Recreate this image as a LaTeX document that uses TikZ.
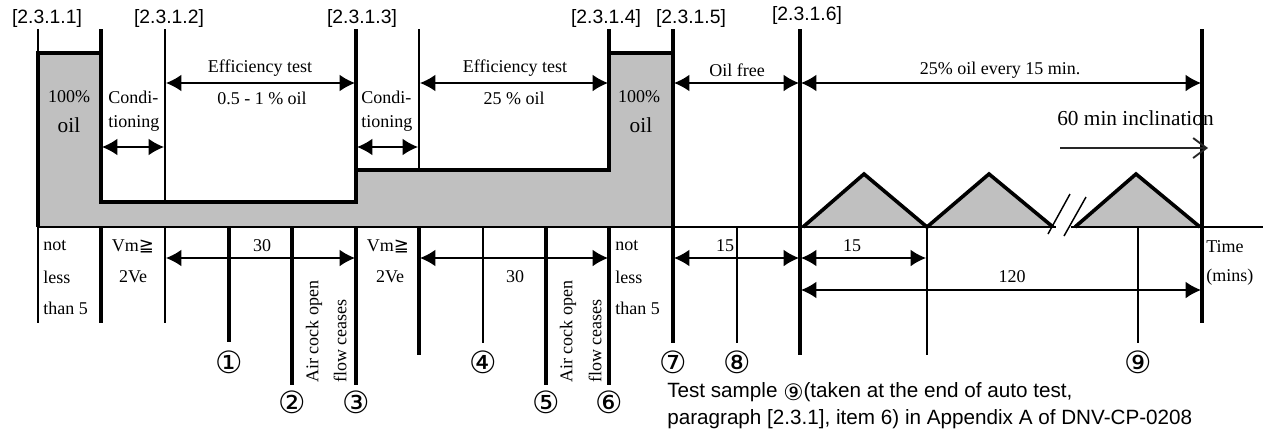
\documentclass[tikz,border=0pt]{standalone}
\usepackage{fontspec}
\setmainfont{Liberation Serif}
\newfontfamily\arial{Liberation Sans}
\newfontfamily\djv{DejaVu Sans}
\usetikzlibrary{arrows.meta}
\definecolor{oilgrey}{RGB}{192,192,192}
\tikzset{
  thinl/.style={line width=1.1pt},
  midl/.style={line width=1.9pt},
  thickl/.style={line width=2.7pt},
  dimarrow/.style={line width=1.1pt,{Latex[length=11.5pt,width=12.5pt]}-{Latex[length=11.5pt,width=12.5pt]}},
  tx/.style={font=\fontsize{13.5}{15}\selectfont, inner sep=0pt},
  oiltx/.style={font=\fontsize{16}{18}\selectfont, inner sep=0pt},
  lab/.style={font=\arial\fontsize{14.5}{16}\selectfont, inner sep=0pt},
  circ/.style={font=\djv\fontsize{23}{25}\selectfont, inner sep=0pt},
  note/.style={font=\arial\fontsize{15.5}{17}\selectfont, inner sep=0pt, anchor=base west},
}
\begin{document}
\begin{tikzpicture}[x=0.75pt,y=-0.75pt]
\useasboundingbox (0,0) rectangle (1263,430);
% grey oil profile
\fill[oilgrey] (38,227) -- (38,53) -- (101,53) -- (101,202) -- (356,202) -- (356,170) -- (609,170) -- (609,53) -- (673,53) -- (673,227) -- cycle;
\fill[oilgrey] (803,227) -- (864,174) -- (927,227) -- cycle;
\fill[oilgrey] (927,227) -- (989,174) -- (1053,227) -- cycle;
\fill[oilgrey] (1075,227) -- (1136,174) -- (1200,227) -- cycle;
% axis
\draw[midl] (38,227) -- (1056,227);
\draw[midl] (1071,227) -- (1263,227);
\draw[thinl] (1048,234) -- (1070,194);
\draw[thinl] (1064,236) -- (1086,197);
% outlines
\draw[thickl, line join=miter] (38,227) -- (38,53) -- (101,53) -- (101,202) -- (356,202) -- (356,170) -- (609,170) -- (609,53) -- (673,53) -- (673,227);
\draw[thickl, line join=miter] (803,227) -- (864,174) -- (927,227) -- (989,174) -- (1053,227);
\draw[thickl, line join=miter] (1075,227) -- (1136,174) -- (1200,227);
% top verticals
\draw[thinl] (38,29) -- (38,53);
\draw[thickl] (101,29) -- (101,53);
\draw[thinl] (165,29) -- (165,202);
\draw[thickl] (356,29) -- (356,170);
\draw[thinl] (419,29) -- (419,170);
\draw[thickl] (609,29) -- (609,53);
\draw[thickl] (673,29) -- (673,53);
\draw[thickl] (800,29) -- (800,227);
\draw[thickl] (1202,29) -- (1202,227);
% bottom verticals
\draw[midl] (38,227) -- (38,323);
\draw[thickl] (101,227) -- (101,323);
\draw[midl] (165,227) -- (165,323);
\draw[thickl] (229,227) -- (229,342);
\draw[thickl] (292,227) -- (292,385);
\draw[thickl] (356,227) -- (356,385);
\draw[thickl] (419,227) -- (419,355);
\draw[midl] (483,227) -- (483,343);
\draw[thickl] (546,227) -- (546,385);
\draw[thickl] (609,227) -- (609,385);
\draw[thickl] (673,227) -- (673,343);
\draw[midl] (737,227) -- (737,343);
\draw[thickl] (800,227) -- (800,355);
\draw[midl] (927,227) -- (927,355);
\draw[midl] (1138,227) -- (1138,343);
\draw[thickl] (1202,227) -- (1202,323);
% top labels
\node[lab] (l1) at (47,18) {[2.3.1.1]};
\node[lab] (l2) at (169,18) {[2.3.1.2]};
\node[lab] (l3) at (362,18) {[2.3.1.3]};
\node[lab] (l4) at (606,18) {[2.3.1.4]};
\node[lab] (l5) at (691,18) {[2.3.1.5]};
\node[lab] (l6) at (807,15) {[2.3.1.6]};
% upper texts
\node[tx] (p1a) at (69,97) {100\%};
\node[oiltx] (p1b) at (69,125) {oil};
\node[tx,anchor=west] (c1a) at (108,97) {Condi-};
\node[tx,anchor=west] (c1b) at (108,123) {tioning};
\draw[dimarrow] (102,147) -- (164,147);
\node[tx] (e1a) at (260,68) {Efficiency test};
\node[tx] (e1b) at (262,98) {0.5 - 1 \% oil};
\draw[dimarrow] (166,83) -- (355,83);
\node[tx,anchor=west] (c2a) at (361,97) {Condi-};
\node[tx,anchor=west] (c2b) at (361,123) {tioning};
\draw[dimarrow] (357,147) -- (418,147);
\node[tx] (e2a) at (515,68) {Efficiency test};
\node[tx] (e2b) at (514,98) {25 \% oil};
\draw[dimarrow] (420,83) -- (608,83);
\node[tx] (p2a) at (639,97) {100\%};
\node[oiltx] (p2b) at (641,125) {oil};
\node[tx] (of) at (737,70) {Oil free};
\draw[dimarrow] (674,83) -- (799,83);
\node[tx] (ev) at (1000,70) {25\% oil every 15 min.};
\draw[dimarrow] (801,83) -- (1201,83);
\node[font=\fontsize{16}{18}\selectfont, inner sep=0pt, anchor=west] (inc) at (1057,118) {60 min inclination};
\draw[line width=1.4pt, black!85, -{Straight Barb[length=10pt,width=15pt,line width=1.4pt]}] (1060,148) -- (1208,148);
% lower texts
\node[tx,anchor=west] (n1) at (43,246) {not};
\node[tx,anchor=west] (n2) at (43,277) {less};
\node[tx,anchor=west] (n3) at (43,308) {than 5};
\node[tx] (v1) at (133,246) {Vm{\djv ≧}};
\node[tx] (v2) at (133,277) {2Ve};
\node[tx] (t30a) at (262,246) {30};
\draw[dimarrow] (166,258) -- (355,258);
\node[tx,rotate=90,anchor=west] (ac1) at (314,383) {Air cock open};
\node[tx,rotate=90,anchor=west] (fc1) at (340,383) {flow ceases};
\node[tx] (v3) at (388,246) {Vm{\djv ≧}};
\node[tx] (v4) at (390,277) {2Ve};
\node[tx] (t30b) at (515,277) {30};
\draw[dimarrow] (420,258) -- (608,258);
\node[tx,rotate=90,anchor=west] (ac2) at (568,383) {Air cock open};
\node[tx,rotate=90,anchor=west] (fc2) at (595,383) {flow ceases};
\node[tx,anchor=west] (n4) at (615,246) {not};
\node[tx,anchor=west] (n5) at (615,277) {less};
\node[tx,anchor=west] (n6) at (615,308) {than 5};
\node[tx] (t15a) at (725,246) {15};
\draw[dimarrow] (674,258) -- (799,258);
\node[tx] (t15b) at (852,246) {15};
\draw[dimarrow] (801,258) -- (926,258);
\node[tx] (t120) at (1012,277) {120};
\draw[dimarrow] (801,290) -- (1201,290);
\node[tx,anchor=west] (tm1) at (1206,247) {Time};
\node[tx,anchor=west] (tm2) at (1206,277) {(mins)};
% circled numbers
\node[circ] (k1) at (229,362) {①};
\node[circ] (k2) at (292,402) {②};
\node[circ] (k3) at (356,402) {③};
\node[circ] (k4) at (483,362) {④};
\node[circ] (k5) at (546,402) {⑤};
\node[circ] (k6) at (609,402) {⑥};
\node[circ] (k7) at (673,362) {⑦};
\node[circ] (k8) at (737,362) {⑧};
\node[circ] (k9) at (1138,362) {⑨};
% note
\node[note] (ts1) at (667,397) {Test sample \raisebox{-0.15em}{\djv\fontsize{17}{18}\selectfont ⑨}(taken at the end of auto test,};
\node[note] (ts2) at (667,424) {paragraph [2.3.1], item 6) in Appendix A of DNV-CP-0208};
\end{tikzpicture}
\end{document}
